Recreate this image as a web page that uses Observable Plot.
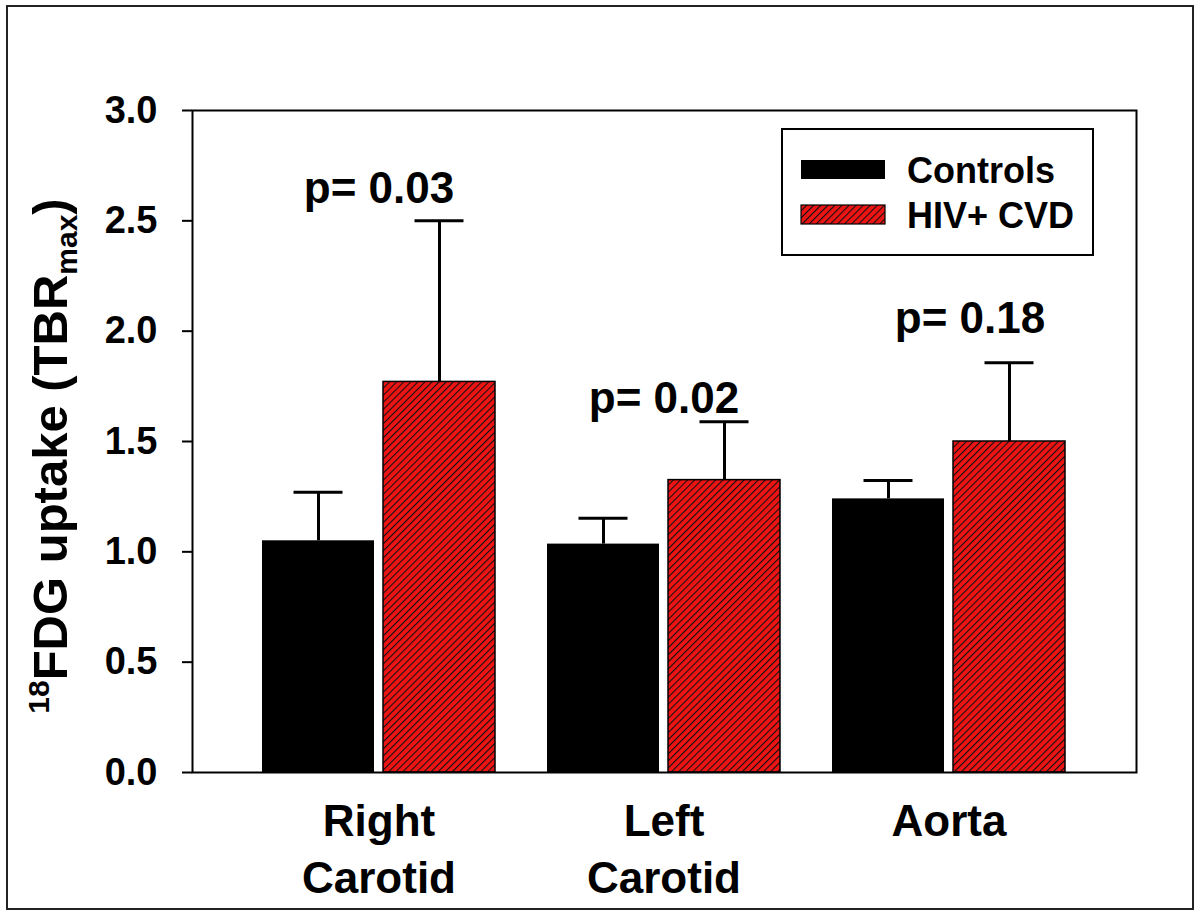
<!DOCTYPE html>
<html>
<head>
<meta charset="utf-8">
<script src="https://cdn.jsdelivr.net/npm/d3@7"></script>
<script src="https://cdn.jsdelivr.net/npm/@observablehq/plot@0.6"></script>
<style>
  html, body { margin: 0; padding: 0; background: white; }
  #chart { width: 1200px; height: 915px; }
</style>
</head>
<body>
<div id="chart"></div>
<script>
// ---- data ----
const categories = ["Right Carotid", "Left Carotid", "Aorta"];
const categoryLabels = ["Right\nCarotid", "Left\nCarotid", "Aorta"];
const series = ["Controls", "HIV+ CVD"];
const controlsMean = [1.05, 1.035, 1.24];
const controlsSD = [0.22, 0.117, 0.083];
const hivMean = [1.77, 1.325, 1.50];
const hivSD = [0.73, 0.265, 0.357];
const pValues = ["p= 0.03", "p= 0.02", "p= 0.18"];
const pLabelY = [2.58, 1.63, 1.99];
const yTicks = [0, 0.5, 1.0, 1.5, 2.0, 2.5, 3.0];

// ---- tables built from the arrays ----
const controlsRows = categories.map((c, i) => ({category: c, series: series[0], mean: controlsMean[i], sd: controlsSD[i]}));
const hivRows = categories.map((c, i) => ({category: c, series: series[1], mean: hivMean[i], sd: hivSD[i]}));
const pRows = categories.map((c, i) => ({category: c, text: pValues[i], y: pLabelY[i]}));
const labelRows = categories.map((c, i) => ({category: c, text: categoryLabels[i]}));

const FONT = "'Liberation Sans', Arial, Helvetica, sans-serif";
const RED = "#ee1414";

// layout constants (pixels)
const bandW = 234, barW = 113, capW = 50;
const half = bandW / 2 + 4;               // bar inset
const errOff = bandW / 4 + 2;             // error line offset from band centre
const capIn = barW / 2 - capW / 2;        // cap inset on the near side
const capOut = bandW - barW / 2 - capW / 2;

const defs = () => {
  const d = d3.create("svg:defs");
  const p = d.append("pattern").attr("id", "hatch").attr("patternUnits", "userSpaceOnUse")
    .attr("width", 5).attr("height", 5).attr("patternTransform", "rotate(45)");
  p.append("rect").attr("width", 5).attr("height", 5).attr("fill", RED);
  p.append("line").attr("x1", 0).attr("y1", 0).attr("x2", 0).attr("y2", 5)
    .attr("stroke", "#111").attr("stroke-width", 2.2);
  return d.node();
};

const chart = Plot.plot({
  width: 1200,
  height: 915,
  marginLeft: 192,
  marginRight: 64,
  marginTop: 110,
  marginBottom: 143,
  style: {fontFamily: FONT, color: "black", background: "white", overflow: "visible"},
  x: {domain: categories, paddingInner: 0.1818, paddingOuter: 0.2413, axis: null},
  y: {domain: [0, 3]},
  marks: [
    defs,
    // error bars (upper only)
    Plot.ruleX(controlsRows, {x: "category", y1: "mean", y2: d => d.mean + d.sd, dx: -errOff, stroke: "black", strokeWidth: 3}),
    Plot.ruleX(hivRows, {x: "category", y1: "mean", y2: d => d.mean + d.sd, dx: errOff, stroke: "black", strokeWidth: 3}),
    Plot.tickY(controlsRows, {x: "category", y: d => d.mean + d.sd, insetLeft: capIn, insetRight: capOut, stroke: "black", strokeWidth: 3}),
    Plot.tickY(hivRows, {x: "category", y: d => d.mean + d.sd, insetLeft: capOut, insetRight: capIn, stroke: "black", strokeWidth: 3}),
    // bars
    Plot.barY(controlsRows, {x: "category", y: "mean", fill: "black", insetRight: half}),
    Plot.barY(hivRows, {x: "category", y: "mean", fill: "url(#hatch)", stroke: "black", strokeWidth: 1.5, insetLeft: half}),
    // p-value annotations
    Plot.text(pRows.filter((d, i) => i < 2), {x: "category", y: "y", text: "text", fontSize: 44, fontWeight: "bold", lineAnchor: "bottom", fill: "black"}),
    Plot.text(pRows.filter((d, i) => i === 2), {x: "category", y: "y", text: "text", dx: 21, fontSize: 44, fontWeight: "bold", lineAnchor: "bottom", fill: "black"}),
    // category labels
    Plot.text(labelRows, {x: "category", text: "text", frameAnchor: "bottom", lineAnchor: "top", dy: 23, lineHeight: 1.3, fontSize: 44, fontWeight: "bold", fill: "black"}),
    // y axis
    Plot.axisY({ticks: yTicks, tickFormat: d3.format(".1f"), tickSize: 10, tickPadding: 25, fontSize: 38, fontWeight: "bold", strokeWidth: 2, label: null}),
    Plot.frame({stroke: "black", strokeWidth: 2})
  ]
});

const svg = d3.select(chart);

// y-axis title with superscript and subscript
const title = svg.append("text")
  .attr("transform", "translate(67,456) rotate(-90)")
  .attr("text-anchor", "middle")
  .attr("font-family", FONT)
  .attr("font-weight", "bold")
  .attr("font-size", 49)
  .attr("fill", "black");
title.append("tspan").attr("font-size", 30).attr("dy", -18).text("18");
title.append("tspan").attr("dy", 18).text("FDG uptake (TBR");
title.append("tspan").attr("font-size", 30).attr("dy", 10).text("max");
title.append("tspan").attr("dy", -10).text(")");

// legend
const lg = svg.append("g").attr("font-family", FONT).attr("font-weight", "bold").attr("font-size", 36);
lg.append("rect").attr("x", 782).attr("y", 129).attr("width", 311).attr("height", 126)
  .attr("fill", "white").attr("stroke", "black").attr("stroke-width", 2);
const swatchFill = ["black", "url(#hatch)"];
series.forEach((s, i) => {
  lg.append("rect").attr("x", 801).attr("y", 160 + i * 45).attr("width", 84).attr("height", 19)
    .attr("fill", swatchFill[i]).attr("stroke", "black").attr("stroke-width", i ? 1.2 : 0);
  lg.append("text").attr("x", 907).attr("y", 183 + i * 45).attr("text-anchor", "start")
    .attr("fill", "black").text(s);
});

// outer border of the figure
svg.append("rect").attr("x", 7).attr("y", 6).attr("width", 1186).attr("height", 903)
  .attr("fill", "none").attr("stroke", "#222").attr("stroke-width", 2);

document.getElementById("chart").appendChild(chart);
</script>
</body>
</html>
